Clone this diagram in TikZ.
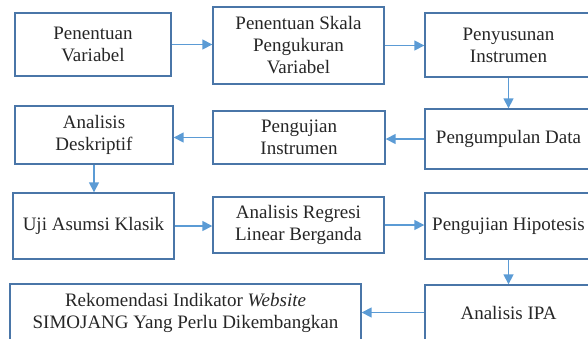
\documentclass[tikz,border=0pt]{standalone}
\usepackage{fontspec}
\setmainfont{Liberation Serif}
\usetikzlibrary{arrows.meta}
\definecolor{boxc}{HTML}{4A76A8}
\definecolor{arrc}{HTML}{5B9BD5}
\begin{document}
\begin{tikzpicture}[x=1pt,y=-1pt,
  box/.style={draw=boxc, line width=1.4pt, align=center, inner sep=0pt,
    font=\fontsize{19}{22}\selectfont, text=black!85},
  arr/.style={draw=arrc, line width=1.6pt, -{Triangle[length=10pt,width=10pt]}}]
\useasboundingbox (0,0) rectangle (588,338);
\node[box, minimum width=156pt, minimum height=63pt] (b1) at (93,44.5) {Penentuan\\Variabel};
\node[box, minimum width=171pt, minimum height=77pt] (b2) at (298.5,45.5) {Penentuan Skala\\Pengukuran\\Variabel};
\node[box, minimum width=167pt, minimum height=64pt] (b3) at (508.5,45) {Penyusunan\\Instrumen};
\node[box, minimum width=167pt, minimum height=60pt] (b4) at (508.5,139) {Pengumpulan Data};
\node[box, minimum width=172pt, minimum height=53pt] (b5) at (299,137.5) {Pengujian\\Instrumen};
\node[box, minimum width=158pt, minimum height=58pt] (b6) at (94,135) {Analisis\\Deskriptif};
\node[box, minimum width=161pt, minimum height=66pt] (b7) at (93.5,226) {Uji Asumsi Klasik};
\node[box, minimum width=171pt, minimum height=56pt] (b8) at (298.5,225) {Analisis Regresi\\Linear Berganda};
\node[box, minimum width=167pt, minimum height=66pt] (b9) at (508.5,226) {Pengujian Hipotesis};
\node[box, minimum width=167pt, minimum height=55pt] (b10) at (508.5,312.5) {Analisis IPA};
\node[box, minimum width=351pt, minimum height=58pt] (b11) at (185.5,313) {Rekomendasi Indikator \textit{Website}\\SIMOJANG Yang Perlu Dikembangkan};
\draw[arr] (b1.east) -- (b1.east -| b2.west);
\draw[arr] (b2.east) -- (b2.east -| b3.west);
\draw[arr] (b3.south) -- (b4.north);
\draw[arr] (b4.west) -- (b4.west -| b5.east);
\draw[arr] (b5.west) -- (b5.west -| b6.east);
\draw[arr] (b6.south) -- (b6.south |- b7.north);
\draw[arr] (b7.east) -- (b7.east -| b8.west);
\draw[arr] (b8.east) -- (b8.east -| b9.west);
\draw[arr] (b9.south) -- (b10.north);
\draw[arr] (b10.west) -- (b10.west -| b11.east);
\end{tikzpicture}
\end{document}
